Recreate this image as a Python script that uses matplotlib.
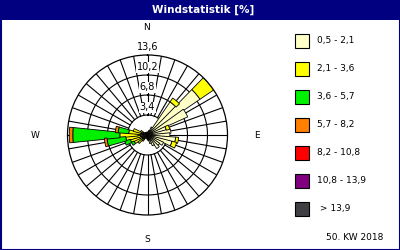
import numpy as np
import matplotlib
matplotlib.use("Agg")
import matplotlib.pyplot as plt
from matplotlib.patches import Rectangle

# ---------------- data ----------------
directions = np.arange(0, 360, 10)  # degrees
class_labels = ["0,5 - 2,1", "2,1 - 3,6", "3,6 - 5,7", "5,7 - 8,2",
                "8,2 - 10,8", "10,8 - 13,9", " > 13,9"]
class_colors = ["#FFFFC8", "#FFFF00", "#00F000", "#FF8000",
                "#FF0000", "#800080", "#404044"]

c1 = [0.5, 0.5, 0.8, 1.5, 6.8, 10.8, 7.5, 3.3, 4.0, 3.8, 4.8, 4.3,
      3.0, 2.5, 2.8, 2.0, 1.5, 1.0, 0.8, 0.6, 0.5, 0.6, 0.8, 1.0,
      1.0, 1.0, 1.2, 1.6, 1.2, 1.0, 0.8, 0.6, 0.5, 0.5, 0.5, 0.5]
c2 = [0, 0, 0, 0, 0.8, 2.8, 0, 0.6, 0, 0, 0.5, 0.8,
      0, 0, 0, 0, 0, 0, 0, 0, 0, 0, 0.5, 1.0,
      1.5, 2.0, 2.5, 3.1, 2.0, 1.5, 0.5, 0, 0, 0, 0, 0]
c3 = [0] * 24 + [0.5, 1.0, 3.2, 8.0, 1.8, 0, 0, 0, 0, 0, 0, 0]
c4 = [0] * 26 + [0.45, 0.6, 0.5, 0, 0, 0, 0, 0, 0, 0]
c5 = [0] * 36
c6 = [0] * 36
c7 = [0] * 36
classes = [c1, c2, c3, c4, c5, c6, c7]

ring_values = [3.4, 6.8, 10.2, 13.6]
ring_labels = ["3,4", "6,8", "10,2", "13,6"]
title = "Windstatistik [%]"
footer = "50. KW 2018"

# ---------------- figure ----------------
W, H = 400, 250
fig = plt.figure(figsize=(W / 100, H / 100), dpi=100)
fig.patch.set_facecolor("white")
navy = "#000080"

# frame + title bar
fig.add_artist(Rectangle((0, 1 - 20 / H), 1, 20 / H, transform=fig.transFigure,
                         facecolor=navy, edgecolor="none", zorder=0))
fig.add_artist(Rectangle((0.5 / W, 0.5 / H), 1 - 1 / W, 1 - 1 / H,
                         transform=fig.transFigure, facecolor="none",
                         edgecolor=navy, lw=1.5, zorder=0))
fig.text(203 / W, 1 - 10 / H, title, color="white", fontsize=7.5,
         fontweight="bold", ha="center", va="center")

# polar axes: centre (147.5, 135) px from top-left, radius 80 px
cx, cy, R = 147.5, 135, 80
ax = fig.add_axes([(cx - R) / W, (H - cy - R) / H, 2 * R / W, 2 * R / H],
                  projection="polar")
ax.set_theta_zero_location("N")
ax.set_theta_direction(-1)
ax.set_ylim(0, ring_values[-1])
ax.set_xticks([])
ax.set_yticks([])
ax.grid(False)
ax.spines["polar"].set_color("black")
ax.spines["polar"].set_linewidth(0.9)
ax.set_facecolor("white")

# rings
tt = np.linspace(0, 2 * np.pi, 361)
for rv in ring_values[:-1]:
    ax.plot(tt, np.full_like(tt, rv), color="black", lw=0.8, zorder=1)
# spokes (from the first ring outward)
for d in directions:
    th = np.radians(d)
    ax.plot([th, th], [ring_values[0], ring_values[-1]], color="black",
            lw=0.8, zorder=1)

# stacked bars
theta = np.radians(directions)
bottom = np.zeros(len(directions))
for vals, col in zip(classes, class_colors):
    vals = np.array(vals, dtype=float)
    mask = vals > 0
    if mask.any():
        ax.bar(theta[mask], vals[mask], bottom=bottom[mask],
               width=np.radians(11.5), color=col, edgecolor="black",
               lw=0.6, zorder=2)
    bottom += vals

# ring labels on the north axis
for rv, lab in zip(ring_values, ring_labels):
    ax.text(0, rv + 1.35, lab, ha="center", va="center", fontsize=7,
            zorder=4, clip_on=False,
            bbox=dict(boxstyle="square,pad=0.05", fc="white", ec="none"))

# compass letters
fig.text(147 / W, 1 - 27 / H, "N", ha="center", va="center", fontsize=6.5)
fig.text(147 / W, 1 - 239 / H, "S", ha="center", va="center", fontsize=6.5)
fig.text(35 / W, 1 - 135 / H, "W", ha="center", va="center", fontsize=6.5)
fig.text(257 / W, 1 - 135 / H, "E", ha="center", va="center", fontsize=6.5)

# legend
for i, (lab, col) in enumerate(zip(class_labels, class_colors)):
    yc = 41 + 28 * i
    fig.add_artist(Rectangle((295 / W, 1 - (yc + 7) / H), 14 / W, 14 / H,
                             transform=fig.transFigure, facecolor=col,
                             edgecolor="black", lw=0.8))
    fig.text(317 / W, 1 - yc / H, lab, ha="left", va="center", fontsize=6.5)

fig.text(355 / W, 1 - 238 / H, footer, ha="center", va="center", fontsize=6.5)

fig.savefig("out.png", dpi=100, facecolor="white")
